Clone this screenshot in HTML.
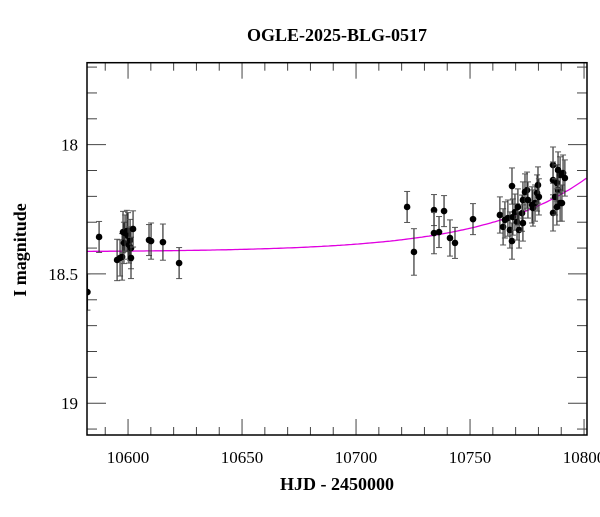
<!DOCTYPE html>
<html><head><meta charset="utf-8"><style>
body{margin:0;background:#fff}
svg text{font-family:"Liberation Serif",serif;fill:#000}
</style></head><body>
<svg width="600" height="512" viewBox="0 0 600 512">
<text x="337" y="41" text-anchor="middle" font-size="18" font-weight="bold">OGLE-2025-BLG-0517</text>
<text x="337" y="490" text-anchor="middle" font-size="18" font-weight="bold">HJD - 2450000</text>
<text transform="translate(26,250) rotate(-90)" text-anchor="middle" font-size="18" font-weight="bold">I magnitude</text>
<g id="ticks"></g>
<clipPath id="cp"><rect x="87" y="62.7" width="500" height="372.3"/></clipPath>
<g id="plot" clip-path="url(#cp)"></g>
<rect x="87" y="62.7" width="500" height="372.3" fill="none" stroke="#000" stroke-width="1.5"/>
</svg>
<script>
const times=[10582.2,10587.3,10595.2,10596.5,10597.4,10597.8,10598.2,10598.7,10599.5,10600.0,10600.4,10600.9,10601.3,10601.3,10602.2,10609.2,10610.1,10615.3,10622.4,
10722.4,10725.4,10734.2,10734.2,10736.4,10738.6,10741.2,10743.4,10751.3,
10763.1,10764.5,10765.3,10766.6,10767.5,10768.4,10768.4,10768.8,10769.7,10770.6,10771.0,10771.5,10772.8,10773.2,10773.2,10774.1,10775.0,10775.4,10777.2,10777.6,10778.5,10779.4,10779.8,10780.2,10786.4,10786.4,10786.4,10787.3,10788.1,10788.6,10789.5,10789.5,10790.3,10790.8,10791.6,10788.1,10788.6];
const mags=[18.570,18.357,18.446,18.438,18.434,18.338,18.380,18.342,18.334,18.353,18.388,18.369,18.400,18.438,18.326,18.369,18.373,18.377,18.458,
18.241,18.415,18.253,18.342,18.338,18.257,18.361,18.380,18.288,
18.272,18.318,18.291,18.284,18.330,18.373,18.160,18.280,18.261,18.299,18.241,18.330,18.265,18.214,18.303,18.183,18.176,18.214,18.233,18.245,18.226,18.187,18.156,18.202,18.079,18.137,18.264,18.202,18.148,18.175,18.117,18.226,18.226,18.110,18.129,18.241,18.098];
const errs=[0.07,0.06,0.08,0.07,0.09,0.08,0.08,0.07,0.08,0.09,0.07,0.08,0.08,0.08,0.07,0.06,0.07,0.07,0.06,
0.06,0.09,0.06,0.08,0.06,0.06,0.07,0.06,0.06,
0.07,0.07,0.07,0.07,0.07,0.07,0.07,0.07,0.07,0.07,0.07,0.07,0.07,0.07,0.07,0.07,0.07,0.07,0.07,0.07,0.07,0.07,0.07,0.07,0.07,0.07,0.07,0.07,0.07,0.07,0.07,0.07,0.07,0.07,0.07,0.07,0.07];
const xTickLabels=[10600,10650,10700,10750,10800];
const yTickLabels=[18,18.5,19];
const modelBase=18.415, modelAmp=0.285, modelPeak=10801, modelScale=45;
const X0=10582,X1=10801.3,Y0=17.683,Y1=19.123,L=87,R=587,T=62.7,B=435;
const sx=t=>L+(t-X0)/(X1-X0)*(R-L);
const sy=m=>T+(m-Y0)/(Y1-Y0)*(B-T);
const NS='http://www.w3.org/2000/svg';
function mk(tag,at,parent){const e=document.createElementNS(NS,tag);for(const k in at)e.setAttribute(k,at[k]);parent.appendChild(e);return e;}
const tk=document.getElementById('ticks'),pl=document.getElementById('plot');
for(let t=10590;t<=10800;t+=10){
  const x=sx(t),maj=t%50===0,len=maj?16:8;
  const a=mk('line',{x1:x,x2:x,y1:B,y2:B-len,stroke:'#444','stroke-width':1},tk);
  
  
  const b=mk('line',{x1:x,x2:x,y1:T,y2:T+len,stroke:'#444','stroke-width':1},tk);
  
  
}
xTickLabels.forEach(v=>{const e=mk('text',{x:sx(v),y:463,'text-anchor':'middle','font-size':17},tk);e.textContent=v;
  
  });
for(let i=0;i<=14;i++){
  const m=17.7+i*0.1,y=sy(m),maj=Math.abs(m*2-Math.round(m*2))<1e-6,len=maj?19:10;
  const a=mk('line',{x1:L,x2:L+len,y1:y,y2:y,stroke:'#444','stroke-width':1},tk);
  
  
  const b=mk('line',{x1:R,x2:R-len,y1:y,y2:y,stroke:'#444','stroke-width':1},tk);
  
  
}
yTickLabels.forEach(v=>{const e=mk('text',{x:78,y:sy(v)+6,'text-anchor':'end','font-size':17},tk);e.textContent=v;
  
  });
let d='';
for(let t=X0;t<=X1+0.5;t+=1){const m=modelBase-modelAmp*Math.exp((t-modelPeak)/modelScale);d+=(d?'L':'M')+sx(t).toFixed(1)+','+sy(m).toFixed(1);}
const c=mk('path',{d:d,fill:'none',stroke:'#e000e0','stroke-width':1.3},pl);


times.forEach((t,i)=>{
  const x=sx(t),y=sy(mags[i]),y1=sy(mags[i]-errs[i]),y2=sy(mags[i]+errs[i]);
  const g=mk('g',{},pl);
  
  
  mk('line',{x1:x,x2:x,y1:y1,y2:y2,stroke:'#333','stroke-width':1.2},g);
  mk('line',{x1:x-3,x2:x+3,y1:y1,y2:y1,stroke:'#555','stroke-width':1},g);
  mk('line',{x1:x-3,x2:x+3,y1:y2,y2:y2,stroke:'#555','stroke-width':1},g);
  mk('circle',{cx:x,cy:y,r:3.3,fill:'#000'},g);
});
</script>
</body></html>
